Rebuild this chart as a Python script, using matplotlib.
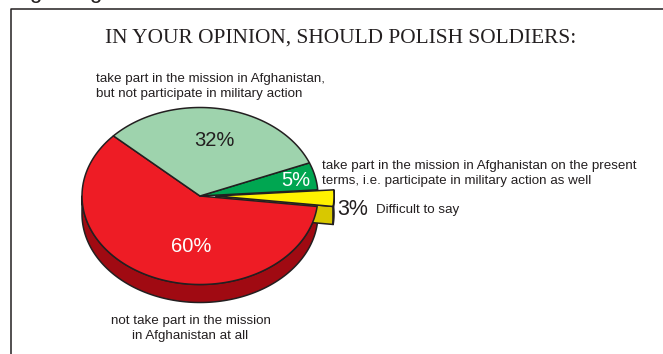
import numpy as np
import matplotlib
matplotlib.use("Agg")
import matplotlib.pyplot as plt
from matplotlib.patches import Polygon

SANS = "Liberation Sans"; SERIF = "Liberation Serif"
INK = "#231F20"

# slices run counterclockwise from the upper left edge of the red one
shares = [60, 3, 5, 32]
pct_labels = ["60%", "3%", "5%", "32%"]
top_colors = ["#EE1C25", "#FFF200", "#00A651", "#9ED3AD"]
side_colors = ["#A00A12", "#D8C800", "#007A3D", "#6FA880"]
categories = [
    "not take part in the mission\nin Afghanistan at all",
    "Difficult to say",
    "take part in the mission in Afghanistan on the present\nterms, i.e. participate in military action as well",
    "take part in the mission in Afghanistan,\nbut not participate in military action",
]
title = "IN YOUR OPINION, SHOULD POLISH SOLDIERS:"

CX, CY = 200, 196
RX, RY = 118, 88.5
DEPTH = 18
START = 137.2
EXPLODE_X = 16   # the yellow slice is pulled out to the right

fig = plt.figure(figsize=(6.63, 3.54), dpi=100)
ax = fig.add_axes([0, 0, 1, 1])
ax.set_xlim(0, 663); ax.set_ylim(354, 0); ax.axis('off')


def arc(a0, a1, cx=CX, cy=CY):
    t = np.radians(np.linspace(a0, a1, 120))
    return np.column_stack([cx + RX*np.cos(t), cy - RY*np.sin(t)])


def face(pts, color, z, lw=1.1):
    ax.add_patch(Polygon(pts, closed=True, facecolor=color, edgecolor=INK,
                         lw=lw, joinstyle='round', zorder=z))


# frame, open on the right and at the bottom
ax.plot([10.5, 10.5, 663], [354, 9, 9], color=INK, lw=1.1, zorder=1)

# descenders of the line of text running above the frame
ax.text(35, -2, "g", family=SANS, fontsize=16, color=INK, ha='center', va='baseline', clip_on=True)
ax.text(95, -2, "g", family=SANS, fontsize=16, color=INK, ha='center', va='baseline', clip_on=True)

edges = START + np.concatenate([[0], np.cumsum(shares)]) * 3.6
red0, red1 = edges[0], edges[1]
yel0, yel1 = edges[1], edges[2]

# red rim, lower half only
rim = arc(max(red0, 180), red1)
face(np.vstack([rim, (rim + [0, DEPTH])[::-1]]), side_colors[0], 2)

# yellow slice side faces
yx = CX + EXPLODE_X
y_arc = arc(yel0, yel1, cx=yx)
face(np.vstack([[[yx, CY]], y_arc[:1], y_arc[:1] + [0, DEPTH], [[yx, CY + DEPTH]]]), side_colors[1], 3)
face(np.vstack([y_arc, (y_arc + [0, DEPTH])[::-1]]), side_colors[1], 3)

# top faces
for i in [0, 2, 3]:
    face(np.vstack([[[CX, CY]], arc(edges[i], edges[i+1])]), top_colors[i], 4)
face(np.vstack([[[yx, CY]], y_arc]), top_colors[1], 5)

# percentages on and beside the slices
ax.text(191.5, 247, pct_labels[0], family=SANS, fontsize=14.5, color="white", ha='center', va='center', zorder=6)
ax.text(353, 209.5, pct_labels[1], family=SANS, fontsize=15.5, color=INK, ha='center', va='center', zorder=6)
ax.text(296, 180.5, pct_labels[2], family=SANS, fontsize=14.5, color="white", ha='center', va='center', zorder=6)
ax.text(214, 140.5, pct_labels[3], family=SANS, fontsize=14.5, color=INK, ha='center', va='center', zorder=6)

# category captions
lab = dict(family=SANS, fontsize=9.6, color=INK, linespacing=1.25, zorder=6)
ax.text(190.5, 328.5, categories[0], ha='center', va='center', **lab)
ax.text(376, 209.5, categories[1], ha='left', va='center', **lab)
ax.text(322, 173.5, categories[2], ha='left', va='center', **lab)
ax.text(96, 86.5, categories[3], ha='left', va='center', **lab)

ax.text(341, 38.5, title, family=SERIF, fontsize=15.4, color=INK, ha='center', va='center')

fig.savefig("out.png", dpi=100, facecolor='white')
